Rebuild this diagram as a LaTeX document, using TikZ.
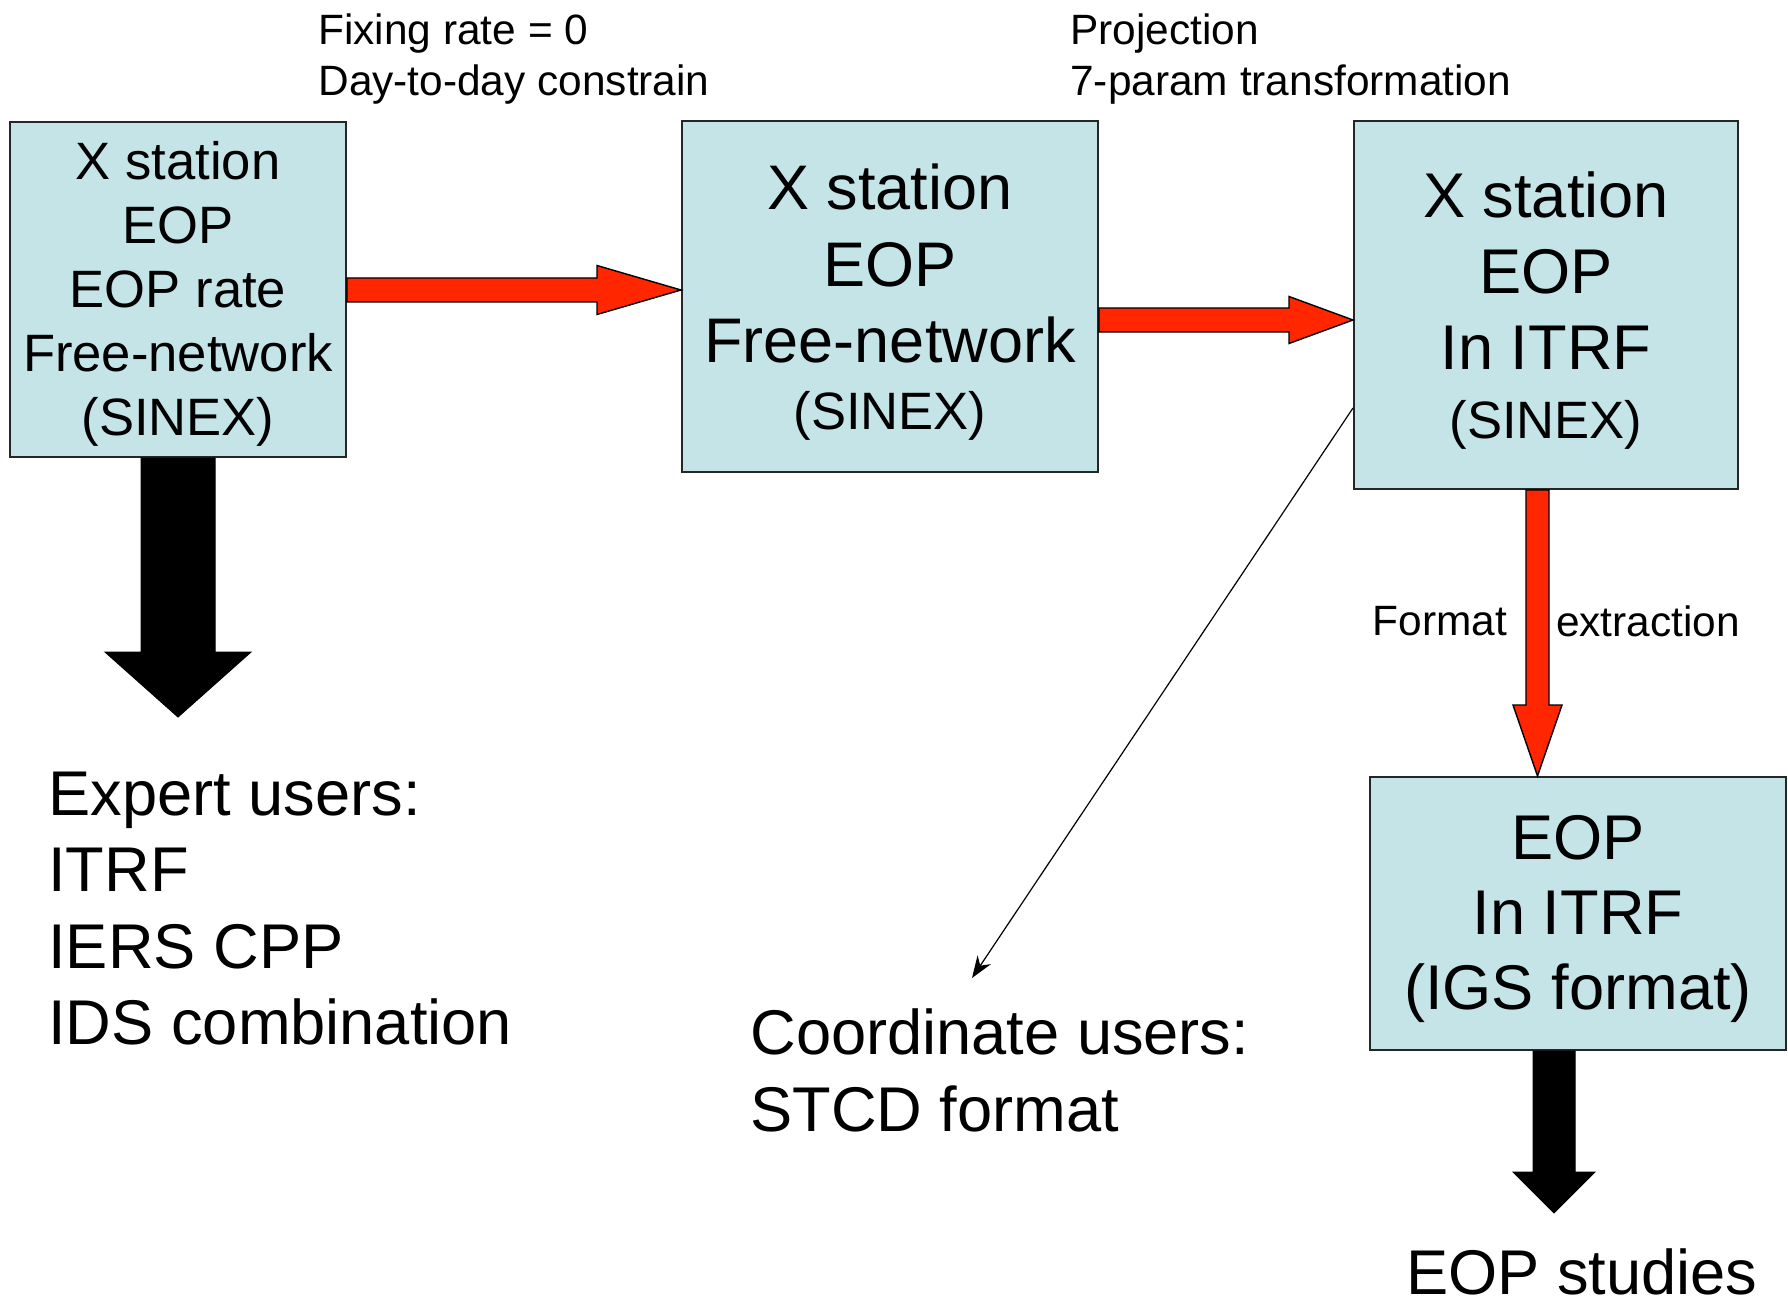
\documentclass[tikz,border=0pt]{standalone}
\usepackage{fontspec}
\setmainfont{Liberation Sans}
\usetikzlibrary{calc,arrows.meta}
\definecolor{boxfill}{RGB}{197,228,231}
\definecolor{fatred}{RGB}{255,38,0}
\tikzset{
  box/.style={draw=black!85, line width=1pt, fill=boxfill, inner sep=0pt},
  boxtext/.style={inner sep=0pt, align=center},
  redarrow/.style={draw=black, line width=0.7pt, fill=fatred, line join=miter},
  blackarrow/.style={draw=black, fill=black, line width=0.5pt},
  lbl/.style={inner sep=0pt, font=\fontsize{21.2}{25.5}\selectfont, align=left},
  big/.style={inner sep=0pt, font=\fontsize{31.6}{38.2}\selectfont, align=left},
}
\begin{document}
\begin{tikzpicture}[x=0.5pt,y=-0.5pt]
\useasboundingbox (0,0) rectangle (1788,1300);

% boxes
\node[box, minimum width=168pt, minimum height=167.5pt] (b1) at (178,289.5) {};
\node[boxtext, font=\fontsize{26.3}{32}\selectfont] (b1t) at ($(b1.center)+(0,4.8)$)
  {X station\\EOP\\EOP rate\\Free-network\\(SINEX)};
\node[box, minimum width=208pt, minimum height=175.5pt] (b2) at (890,296.5) {};
\node[boxtext, font=\fontsize{31.5}{38.25}\selectfont] (b2t) at ($(b2.center)+(0,5.7)$)
  {X station\\EOP\\Free-network\\[-5pt]{\fontsize{26.3}{32}\selectfont (SINEX)}};
\node[box, minimum width=192pt, minimum height=184pt] (b3) at (1546,305) {};
\node[boxtext, font=\fontsize{31.6}{38}\selectfont] (b3t) at ($(b3.center)+(0,5.7)$)
  {X station\\EOP\\In ITRF\\[-3.6pt]{\fontsize{26.3}{32}\selectfont (SINEX)}};
\node[box, minimum width=208pt, minimum height=136.5pt] (b4) at (1578,913.5) {};
\node[boxtext, font=\fontsize{31.6}{37.6}\selectfont] (b4t) at ($(b4.center)+(0,5.7)$)
  {EOP\\In ITRF\\(IGS format)};

% labels
\node[lbl, anchor=west] (l1) at (318,59) {Fixing rate = 0\\Day-to-day constrain};
\node[lbl, anchor=west] (l2) at (1070,59) {Projection\\7-param transformation};
\node[lbl] (l3) at (1440,621) {Format};
\node[lbl] (l4) at (1648,621) {extraction};

\node[big, anchor=west] (expert) at (48,908.5) {Expert users:\\ITRF\\IERS CPP\\IDS combination};
\node[big, anchor=west] (coord) at (750,1070.5) {Coordinate users:\\STCD format};
\node[big] (studies) at (1582,1272) {EOP studies};

% red arrow 1
\coordinate (s1) at ($(b1.east)+(0,0.5)$);
\coordinate (e1) at (s1 -| b2.west);
\draw[redarrow] ($(s1)+(0,-12)$) -- ($(e1)+(-84,-12)$) -- ($(e1)+(-84,-24.5)$) -- (e1)
  -- ($(e1)+(-84,24.5)$) -- ($(e1)+(-84,12)$) -- ($(s1)+(0,12)$) -- cycle;

% red arrow 2
\coordinate (s2) at ($(b2.east)+(0,23.5)$);
\coordinate (e2) at (s2 -| b3.west);
\draw[redarrow] ($(s2)+(0,-12)$) -- ($(e2)+(-64,-12)$) -- ($(e2)+(-64,-23.5)$) -- (e2)
  -- ($(e2)+(-64,23.5)$) -- ($(e2)+(-64,12)$) -- ($(s2)+(0,12)$) -- cycle;

% red arrow 3 (down)
\coordinate (s3) at ($(b3.south)+(-8.5,0)$);
\coordinate (e3) at (s3 |- b4.north);
\draw[redarrow] ($(s3)+(-11.5,0)$) -- ($(e3)+(-11.5,-71)$) -- ($(e3)+(-24.5,-71)$) -- (e3)
  -- ($(e3)+(24.5,-71)$) -- ($(e3)+(11.5,-71)$) -- ($(s3)+(11.5,0)$) -- cycle;

% black arrow from box1
\coordinate (s4) at (b1.south);
\coordinate (e4) at ($(s4)+(0,259)$);
\draw[blackarrow] ($(s4)+(-37,0)$) -- ($(e4)+(-37,-65)$) -- ($(e4)+(-73,-65)$) -- (e4)
  -- ($(e4)+(73,-65)$) -- ($(e4)+(37,-65)$) -- ($(s4)+(37,0)$) -- cycle;

% black arrow from box4
\coordinate (s5) at ($(b4.south)+(-24,0)$);
\coordinate (e5) at ($(s5)+(0,162)$);
\draw[blackarrow] ($(s5)+(-21,0)$) -- ($(e5)+(-21,-41)$) -- ($(e5)+(-41,-41)$) -- (e5)
  -- ($(e5)+(41,-41)$) -- ($(e5)+(21,-41)$) -- ($(s5)+(21,0)$) -- cycle;

% thin arrow
\coordinate (t0) at ($(b3.west)+(0,103)$);
\coordinate (t1) at (972,978);
\draw[line width=0.6pt, -{Stealth[length=11pt,width=8pt]}] (t0) -- (t1);
\end{tikzpicture}
\end{document}
